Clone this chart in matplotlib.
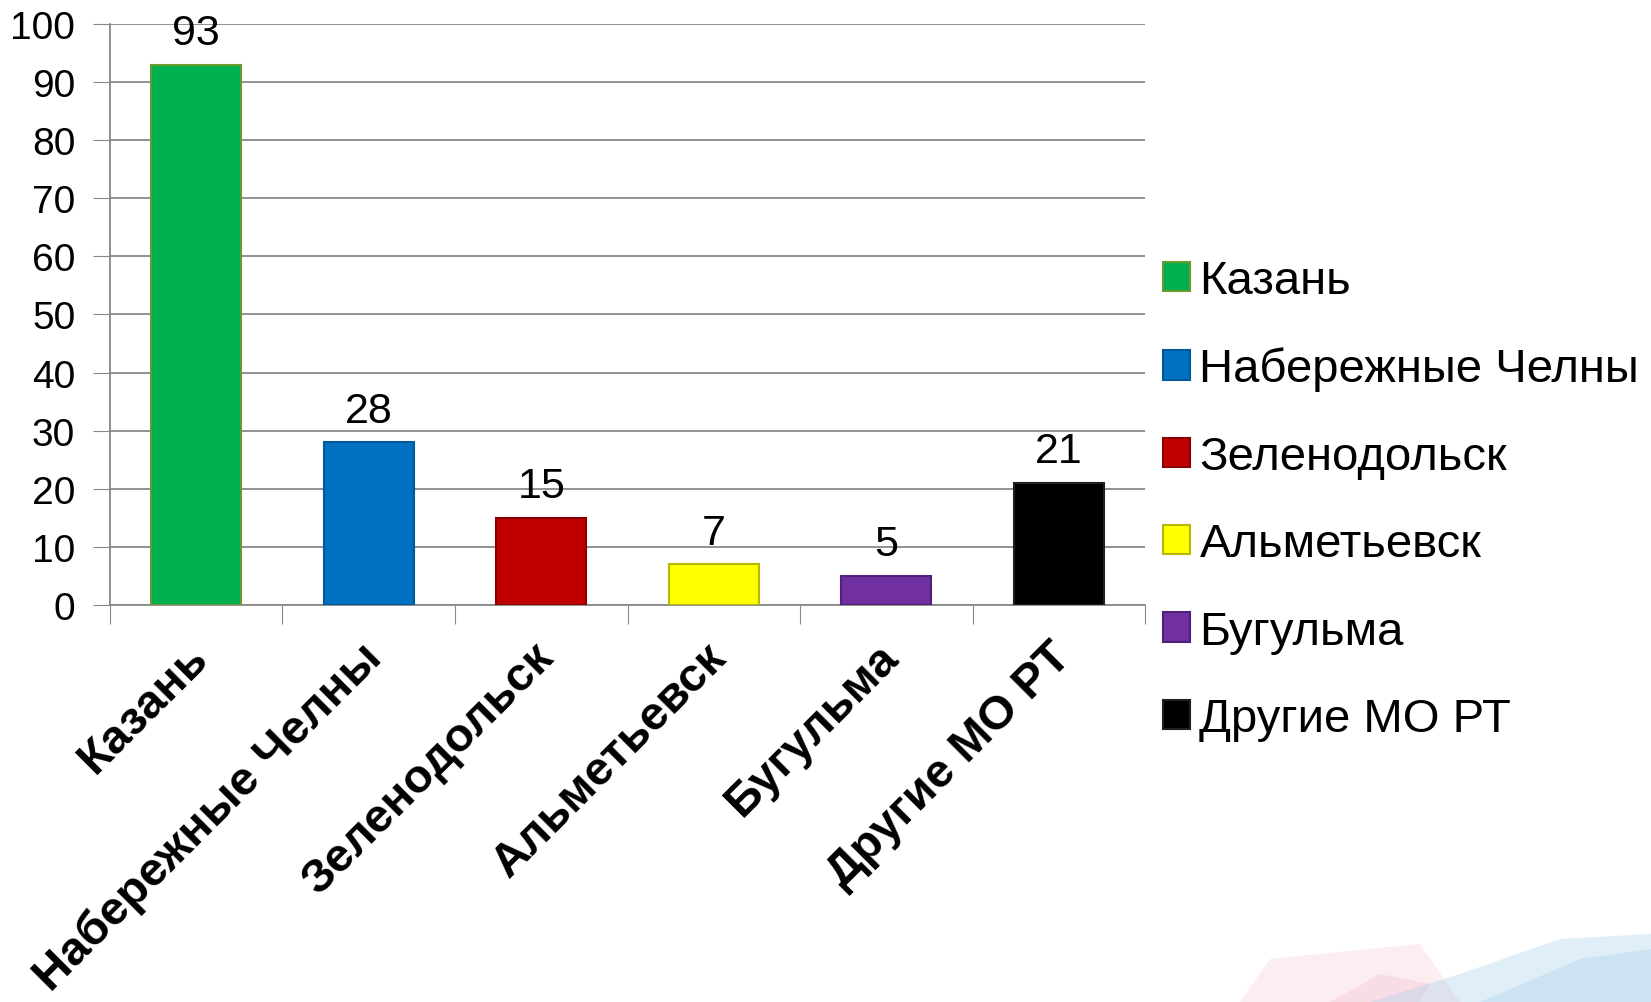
import numpy as np
import matplotlib.pyplot as plt
from matplotlib.patches import Polygon
from matplotlib.transforms import ScaledTranslation

plt.rcParams['font.family'] = ['Liberation Sans', 'DejaVu Sans']

cities = ['Казань', 'Набережные Челны', 'Зеленодольск', 'Альметьевск', 'Бугульма', 'Другие МО РТ']
counts = [93, 28, 15, 7, 5, 21]
colors = ['#00B050', '#0070C0', '#C00000', '#FFFF00', '#7030A0', '#000000']
edges = ['#6C9A2E', '#005A9A', '#8A0000', '#B8B800', '#50207A', '#202020']

fig = plt.figure(figsize=(16.51, 10.03), dpi=100)

# faint background decoration in the lower-right corner
deco = fig.add_axes([0, 0, 1, 1], zorder=-5)
deco.set_xlim(0, 1651)
deco.set_ylim(1003, 0)
deco.axis('off')
deco.add_patch(Polygon([[1240, 1003], [1270, 960], [1420, 945], [1460, 1003]], color='#F4B8C8', alpha=0.25, lw=0))
deco.add_patch(Polygon([[1330, 1003], [1380, 975], [1430, 985], [1420, 1003]], color='#F0A0B8', alpha=0.2, lw=0))
deco.add_patch(Polygon([[1370, 1003], [1460, 975], [1560, 940], [1651, 935], [1651, 1003]], color='#A8D0EC', alpha=0.35, lw=0))
deco.add_patch(Polygon([[1480, 1003], [1580, 960], [1651, 950], [1651, 1003]], color='#90C4E8', alpha=0.25, lw=0))

ax = fig.add_axes([0.0666, 0.396, 0.627, 0.579])
x = np.arange(len(cities))
bars = ax.bar(x, counts, width=0.52, color=colors, edgecolor=edges, linewidth=1.5, zorder=3)
for i, b in enumerate(bars):
    b.set_label(cities[i])
    ax.text(x[i], counts[i] + 2.0, str(counts[i]), ha='center', va='bottom', fontsize=31, zorder=4)

ax.set_xlim(-0.5, len(cities) - 0.5)
ax.set_ylim(0, 100)
ax.set_yticks(np.arange(0, 101, 10))
ax.tick_params(axis='y', labelsize=28, length=12, color='#888888', pad=13)
ax.yaxis.grid(True, color='#888888', linewidth=1.3, zorder=0)
ax.set_axisbelow(True)

ax.set_xticks(np.arange(-0.5, len(cities), 1.0), minor=False)
ax.set_xticklabels([])
ax.set_xticks(x, minor=True)
ax.set_xticklabels(cities, minor=True, rotation=45, ha='right', rotation_mode='anchor',
                   fontsize=34, fontweight='bold')
ax.tick_params(axis='x', which='minor', length=0, pad=30)
ax.tick_params(axis='x', which='major', length=14, color='#888888')
shift = ScaledTranslation(-10 / 100, 12 / 100, fig.dpi_scale_trans)
for lab in ax.get_xticklabels(minor=True):
    lab.set_transform(lab.get_transform() + shift)

for s in ['top', 'right']:
    ax.spines[s].set_visible(False)
ax.spines['left'].set_color('#888888')
ax.spines['bottom'].set_color('#888888')
ax.spines['left'].set_linewidth(1.3)
ax.spines['bottom'].set_linewidth(1.3)

leg = ax.legend(handles=list(bars), loc='center left', bbox_to_anchor=(0.985, 0.18),
                frameon=False, fontsize=34, handlelength=0.58, handleheight=0.58,
                handletextpad=0.2, labelspacing=0.92, borderaxespad=0.3)

fig.savefig('out.png', dpi=100)
